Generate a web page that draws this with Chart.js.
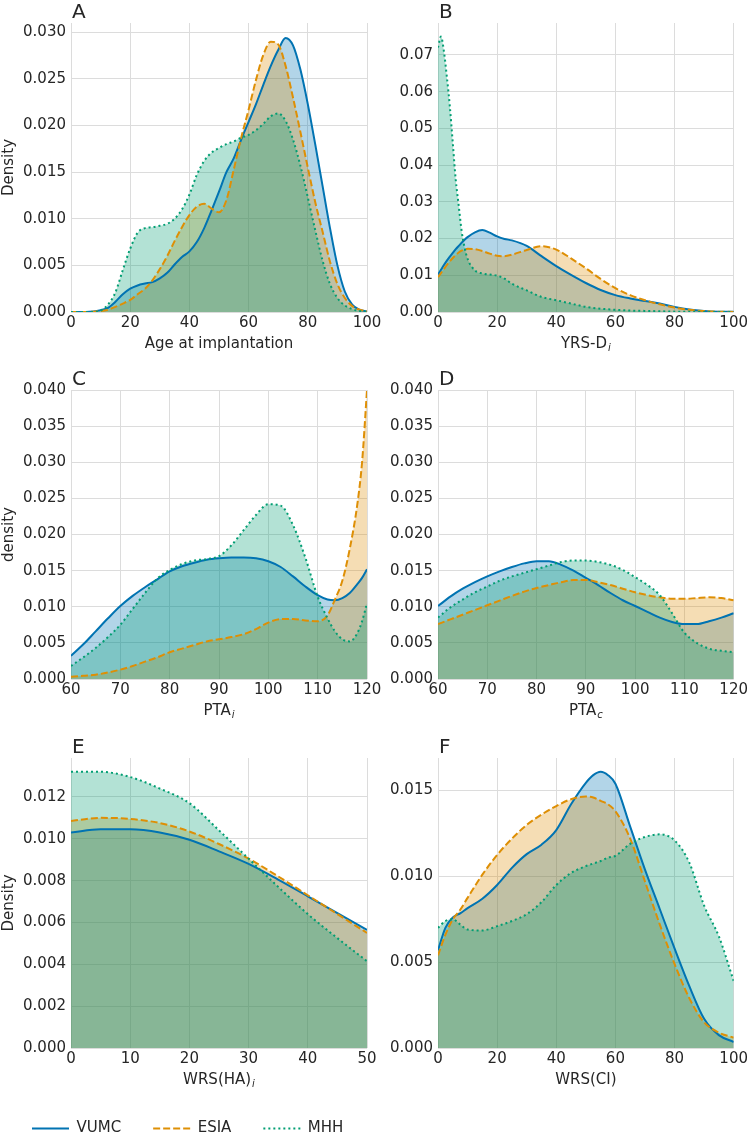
<!DOCTYPE html>
<html>
<head>
<meta charset="utf-8">
<script src="https://cdn.jsdelivr.net/npm/chart.js@4"></script>
<style>
  body { margin: 0; background: #fff; }
  #wrap { position: relative; width: 750px; height: 1134px; overflow: hidden; background: #fff; }
  canvas { position: absolute; }
</style>
</head>
<body>
<div id="wrap">
  <canvas id="chartA" width="400" height="351" style="left:0;top:0"></canvas>
  <canvas id="chartB" width="375" height="351" style="left:375px;top:0"></canvas>
  <canvas id="chartC" width="400" height="368" style="left:0;top:350px"></canvas>
  <canvas id="chartD" width="375" height="368" style="left:375px;top:350px"></canvas>
  <canvas id="chartE" width="400" height="369" style="left:0;top:718px"></canvas>
  <canvas id="chartF" width="375" height="369" style="left:375px;top:718px"></canvas>
  <canvas id="legend" width="560" height="45" style="left:0;top:1089px"></canvas>
</div>
<script>
const seriesNames = ['VUMC', 'ESIA', 'MHH']

// A - Age at implantation
const xA = [0, 2.5, 5, 7.5, 10, 12.5, 15, 17.5, 20, 22.5, 25, 27.5, 30, 32.5, 35, 37.5, 40, 42.5, 45, 47.5, 50,
    52.5, 55, 57.5, 60, 62.5, 65, 67.5, 70, 72.5, 75, 77.5, 80, 82.5, 85, 87.5, 90, 92.5, 95, 97.5, 100]
const vumcA = [0, 0, 0, 0.00005, 0.0002, 0.00045, 0.0011, 0.0019, 0.0025, 0.00285, 0.00305, 0.0032, 0.0036, 0.0042,
    0.0051, 0.0059, 0.0065, 0.0075, 0.009, 0.0109, 0.0129, 0.015, 0.0165, 0.0185, 0.0204, 0.0223, 0.0244, 0.0264,
    0.0281, 0.0294, 0.0286, 0.026, 0.0223, 0.018, 0.0135, 0.009, 0.005, 0.0022, 0.0008, 0.00025, 0.00005]
const esiaA = [0, 0, 0, 0.00003, 0.0001, 0.00025, 0.00055, 0.0009, 0.0013, 0.0019, 0.0025, 0.0034, 0.0046, 0.006,
    0.0076, 0.0091, 0.0104, 0.0113, 0.0116, 0.0111, 0.0107, 0.012, 0.0153, 0.0187, 0.0217, 0.0249, 0.0276, 0.029,
    0.0287, 0.0264, 0.023, 0.0193, 0.0155, 0.0118, 0.0086, 0.0054, 0.003, 0.0015, 0.00065, 0.00025, 0.0001]
const mhhA = [0, 0, 0, 0, 0.00015, 0.0008, 0.0021, 0.0045, 0.0068, 0.0085, 0.009, 0.0091, 0.00925, 0.00945, 0.01,
    0.011, 0.0126, 0.0147, 0.0162, 0.0171, 0.0176, 0.018, 0.0183, 0.0187, 0.019, 0.0195, 0.0202, 0.021, 0.0213,
    0.0205, 0.0185, 0.0157, 0.0123, 0.0088, 0.0055, 0.003, 0.0015, 0.0007, 0.0003, 0.0001, 0]

// B - YRS-D_i
const xB = [0, 1, 2, 3, 4, 5, 6, 7, 8, 9, 10, 12.5, 15, 17.5, 20, 22.5, 25, 30, 35, 40, 45, 50, 55, 60, 65, 70, 75,
    80, 85, 90, 95, 100]
const vumcB = [0.0102, 0.0115, 0.0128, 0.014, 0.0151, 0.0161, 0.0171, 0.018, 0.0189, 0.0197, 0.0204, 0.0217, 0.0223,
    0.0216, 0.0206, 0.0199, 0.0195, 0.018, 0.0152, 0.0125, 0.0101, 0.0079, 0.006, 0.0046, 0.0037, 0.003, 0.0023,
    0.0014, 0.0007, 0.0003, 0.0001, 0.00005]
const esiaB = [0.0095, 0.0106, 0.0117, 0.0128, 0.0138, 0.0147, 0.0155, 0.0162, 0.0167, 0.017, 0.0172, 0.0171, 0.0166,
    0.0159, 0.0153, 0.0152, 0.0156, 0.0169, 0.0179, 0.017, 0.0146, 0.0119, 0.009, 0.0065, 0.0046, 0.0032, 0.0021,
    0.0012, 0.0006, 0.00025, 0.00008, 0.00002]
const mhhB = [0.072, 0.075, 0.071, 0.064, 0.056, 0.046, 0.036, 0.029, 0.022, 0.0175, 0.0145, 0.0113, 0.0105, 0.0102,
    0.0099, 0.0091, 0.0077, 0.0059, 0.0041, 0.0032, 0.0023, 0.0014, 0.0009, 0.0006, 0.0004, 0.0003, 0.0002, 0.0001,
    0.00005, 0.00003, 0.00001, 0]

// C - PTA_i
const xC = [60, 62.5, 65, 67.5, 70, 72.5, 75, 77.5, 80, 82.5, 85, 87.5, 90, 92.5, 95, 97.5, 100, 102.5, 105, 107.5,
    110, 112, 113.5, 115, 116.5, 118, 119, 120]
const vumcC = [0.0032, 0.0048, 0.0066, 0.0084, 0.0101, 0.0115, 0.0127, 0.0138, 0.0149, 0.0156, 0.0161, 0.0165, 0.0167,
    0.0168, 0.0168, 0.0167, 0.0163, 0.0155, 0.0142, 0.0128, 0.0116, 0.011, 0.0109, 0.0112, 0.0119, 0.0131, 0.014, 0.0152]
const esiaC = [0.0003, 0.00045, 0.0006, 0.0009, 0.0013, 0.0018, 0.0024, 0.003, 0.0037, 0.0042, 0.0047, 0.0052, 0.0055,
    0.0058, 0.0062, 0.0069, 0.0078, 0.0083, 0.0083, 0.0081, 0.008, 0.0088, 0.011, 0.0136, 0.018, 0.024, 0.03, 0.04]
const mhhC = [0.0018, 0.003, 0.0043, 0.0058, 0.0075, 0.0097, 0.0119, 0.0139, 0.0151, 0.0159, 0.0164, 0.0166, 0.017,
    0.0185, 0.0206, 0.0227, 0.0242, 0.024, 0.0213, 0.0168, 0.0114, 0.0084, 0.0066, 0.0055, 0.0052, 0.0063, 0.008, 0.0105]

// D - PTA_c
const xD = [60, 62.5, 65, 67.5, 70, 72.5, 75, 77.5, 80, 82.5, 85, 87.5, 90, 92.5, 95, 97.5, 100, 102.5, 105, 107.5,
    110, 112.5, 115, 117.5, 120]
const vumcD = [0.0101, 0.0114, 0.0125, 0.0134, 0.0142, 0.0149, 0.0155, 0.016, 0.0163, 0.0163, 0.0158, 0.015, 0.014,
    0.013, 0.0119, 0.0109, 0.0101, 0.0093, 0.0085, 0.0079, 0.0076, 0.0076, 0.008, 0.0085, 0.0091]
const esiaD = [0.0076, 0.00825, 0.0089, 0.00955, 0.0102, 0.01085, 0.0115, 0.0121, 0.0126, 0.013, 0.0134, 0.0137, 0.0137,
    0.0134, 0.013, 0.0125, 0.012, 0.0116, 0.0113, 0.0111, 0.0111, 0.0112, 0.0113, 0.0112, 0.0109]
const mhhD = [0.0085, 0.0099, 0.011, 0.012, 0.0128, 0.0136, 0.0142, 0.0147, 0.0152, 0.0157, 0.0162, 0.0164, 0.0164,
    0.0162, 0.0158, 0.0151, 0.0141, 0.013, 0.0116, 0.0091, 0.0064, 0.005, 0.0042, 0.0039, 0.0037]

// E - WRS(HA)_i
const xE = [0, 5, 10, 15, 20, 25, 30, 35, 40, 45, 50]
const vumcE = [0.0103, 0.01045, 0.01045, 0.0103, 0.00995, 0.0094, 0.0088, 0.00805, 0.00725, 0.00645, 0.00565]
const esiaE = [0.01085, 0.011, 0.01095, 0.01075, 0.01035, 0.00975, 0.00905, 0.0082, 0.0073, 0.0064, 0.0055]
const mhhE = [0.0132, 0.0132, 0.01295, 0.0124, 0.0117, 0.0104, 0.00905, 0.0077, 0.0064, 0.00525, 0.00415]

// F - WRS(CI)
const xF = [0, 2.5, 5, 7.5, 10, 15, 20, 25, 30, 35, 40, 45, 50, 52.5, 55, 57.5, 60, 65, 70, 75, 80, 85, 90, 95, 100]
const vumcF = [0.0057, 0.007, 0.0076, 0.00785, 0.00815, 0.0087, 0.0095, 0.0105, 0.0113, 0.01185, 0.0127, 0.0142,
    0.01545, 0.0159, 0.0161, 0.0159, 0.0154, 0.0129, 0.0104, 0.0081, 0.0058, 0.0036, 0.0017, 0.00075, 0.00035]
const esiaF = [0.0054, 0.0066, 0.0075, 0.00805, 0.00875, 0.0101, 0.01125, 0.0122, 0.013, 0.0136, 0.0141, 0.0145,
    0.01465, 0.0146, 0.0144, 0.0142, 0.0138, 0.0122, 0.0097, 0.0072, 0.0049, 0.0029, 0.0015, 0.0009, 0.0006]
const mhhF = [0.007, 0.0074, 0.0075, 0.0072, 0.0069, 0.00685, 0.0071, 0.0074, 0.0078, 0.0085, 0.0095, 0.0102, 0.0106,
    0.01075, 0.0109, 0.0111, 0.0112, 0.0119, 0.0123, 0.01245, 0.0121, 0.0108, 0.0083, 0.0065, 0.0039]

const font = 'DejaVu Sans'
const textColor = '#262626'
const gridColor = '#dcdcdc'
const styles = [
    { color: '#0173b2', fill: 'rgba(1, 115, 178, 0.3)', dash: [], order: 3 },
    { color: '#de8f05', fill: 'rgba(222, 143, 5, 0.3)', dash: [7, 3], order: 2 },
    { color: '#029e73', fill: 'rgba(2, 158, 115, 0.3)', dash: [2, 3], order: 1 },
]

// panel letter + x label (with italic subscript)
const panelText = {
    id: 'panelText',
    afterDraw(chart, args, opts) {
        const { ctx, chartArea } = chart
        ctx.save()
        ctx.fillStyle = textColor
        ctx.textAlign = 'left'
        ctx.textBaseline = 'alphabetic'
        ctx.font = '20px "' + font + '"'
        ctx.fillText(opts.letter, chartArea.left + 1, chartArea.top - 5)

        const main = '15px "' + font + '"'
        const small = 'italic 10px "' + font + '"'
        ctx.font = main
        const w1 = ctx.measureText(opts.label).width
        ctx.font = small
        const w2 = opts.sub ? ctx.measureText(opts.sub).width + 1 : 0
        const x = (chartArea.left + chartArea.right) / 2 - (w1 + w2) / 2
        const y = chartArea.bottom + 36
        ctx.font = main
        ctx.fillText(opts.label, x, y)
        if (opts.sub) {
            ctx.font = small
            ctx.fillText(opts.sub, x + w1 + 1, y + 3)
        }
        ctx.restore()
    }
}

function makePanel(id, p) {
    const datasets = p.series.map((ys, i) => ({
        label: seriesNames[i],
        data: p.xs.map((x, j) => ({ x: x, y: ys[j] })),
        borderColor: styles[i].color,
        backgroundColor: styles[i].fill,
        borderDash: styles[i].dash,
        borderWidth: 2,
        pointRadius: 0,
        fill: 'origin',
        cubicInterpolationMode: 'monotone',
        order: styles[i].order,
    }))
    const tickFont = { family: font, size: 15 }
    return new Chart(document.getElementById(id), {
        type: 'line',
        data: { datasets: datasets },
        options: {
            responsive: false,
            animation: false,
            layout: { padding: { top: p.padTop, right: p.padRight, left: 0, bottom: 0 } },
            scales: {
                x: {
                    type: 'linear',
                    min: p.xMin,
                    max: p.xMax,
                    afterFit: (s) => { s.height = 39 },
                    grid: { color: gridColor, drawTicks: false },
                    border: { display: false },
                    ticks: {
                        stepSize: p.xStep, autoSkip: false, maxRotation: 0, padding: 2,
                        color: textColor, font: tickFont, includeBounds: false,
                    },
                },
                y: {
                    min: 0,
                    max: p.yMax,
                    afterFit: (s) => { s.width = p.yWidth },
                    grid: { color: gridColor, drawTicks: false },
                    border: { display: false },
                    title: {
                        display: !!p.yTitle, text: p.yTitle, color: textColor,
                        font: { family: font, size: 15 }, padding: 0,
                    },
                    ticks: {
                        stepSize: p.yStep, padding: 5, color: textColor, font: tickFont, includeBounds: false,
                        callback: (v) => v.toFixed(p.dec),
                    },
                },
            },
            plugins: {
                filler: { drawTime: 'beforeDatasetsDraw' },
                legend: { display: false },
                tooltip: { enabled: false },
                panelText: { letter: p.letter, label: p.label, sub: p.sub },
            },
        },
        plugins: [panelText],
    })
}

makePanel('chartA', { xs: xA, series: [vumcA, esiaA, mhhA], letter: 'A', label: 'Age at implantation',
    xMin: 0, xMax: 100, xStep: 20, yMax: 0.031, yStep: 0.005, dec: 3, yTitle: 'Density',
    padTop: 23, padRight: 33, yWidth: 71 })
makePanel('chartB', { xs: xB, series: [vumcB, esiaB, mhhB], letter: 'B', label: 'YRS-D', sub: 'i',
    xMin: 0, xMax: 100, xStep: 20, yMax: 0.0787, yStep: 0.01, dec: 2,
    padTop: 23, padRight: 16, yWidth: 63 })
makePanel('chartC', { xs: xC, series: [vumcC, esiaC, mhhC], letter: 'C', label: 'PTA', sub: 'i',
    xMin: 60, xMax: 120, xStep: 10, yMax: 0.04, yStep: 0.005, dec: 3, yTitle: 'density',
    padTop: 40, padRight: 33, yWidth: 71 })
makePanel('chartD', { xs: xD, series: [vumcD, esiaD, mhhD], letter: 'D', label: 'PTA', sub: 'c',
    xMin: 60, xMax: 120, xStep: 10, yMax: 0.04, yStep: 0.005, dec: 3,
    padTop: 40, padRight: 16, yWidth: 63 })
makePanel('chartE', { xs: xE, series: [vumcE, esiaE, mhhE], letter: 'E', label: 'WRS(HA)', sub: 'i',
    xMin: 0, xMax: 50, xStep: 10, yMax: 0.01386, yStep: 0.002, dec: 3, yTitle: 'Density',
    padTop: 40, padRight: 33, yWidth: 71 })
makePanel('chartF', { xs: xF, series: [vumcF, esiaF, mhhF], letter: 'F', label: 'WRS(CI)',
    xMin: 0, xMax: 100, xStep: 20, yMax: 0.0169, yStep: 0.005, dec: 3,
    padTop: 40, padRight: 16, yWidth: 63 })

// shared legend
new Chart(document.getElementById('legend'), {
    type: 'line',
    data: {
        datasets: seriesNames.map((name, i) => ({
            label: name,
            data: [],
            borderColor: styles[i].color,
            backgroundColor: styles[i].fill,
            borderDash: styles[i].dash,
            borderWidth: 2,
        })),
    },
    options: {
        responsive: false,
        animation: false,
        scales: { x: { display: false }, y: { display: false } },
        plugins: {
            tooltip: { enabled: false },
            legend: {
                position: 'top',
                align: 'start',
                maxHeight: 100,
                labels: {
                    usePointStyle: true, pointStyle: 'line', pointStyleWidth: 37, padding: 32,
                    color: textColor, font: { family: font, size: 15 },
                    // point style drops the dataset dash, so put it back
                    generateLabels: (chart) => Chart.defaults.plugins.legend.labels.generateLabels(chart)
                        .map((item, i) => Object.assign(item, {
                            lineDash: styles[i].dash, lineWidth: 2, strokeStyle: styles[i].color,
                        })),
                },
            },
        },
    },
})
</script>
</body>
</html>
